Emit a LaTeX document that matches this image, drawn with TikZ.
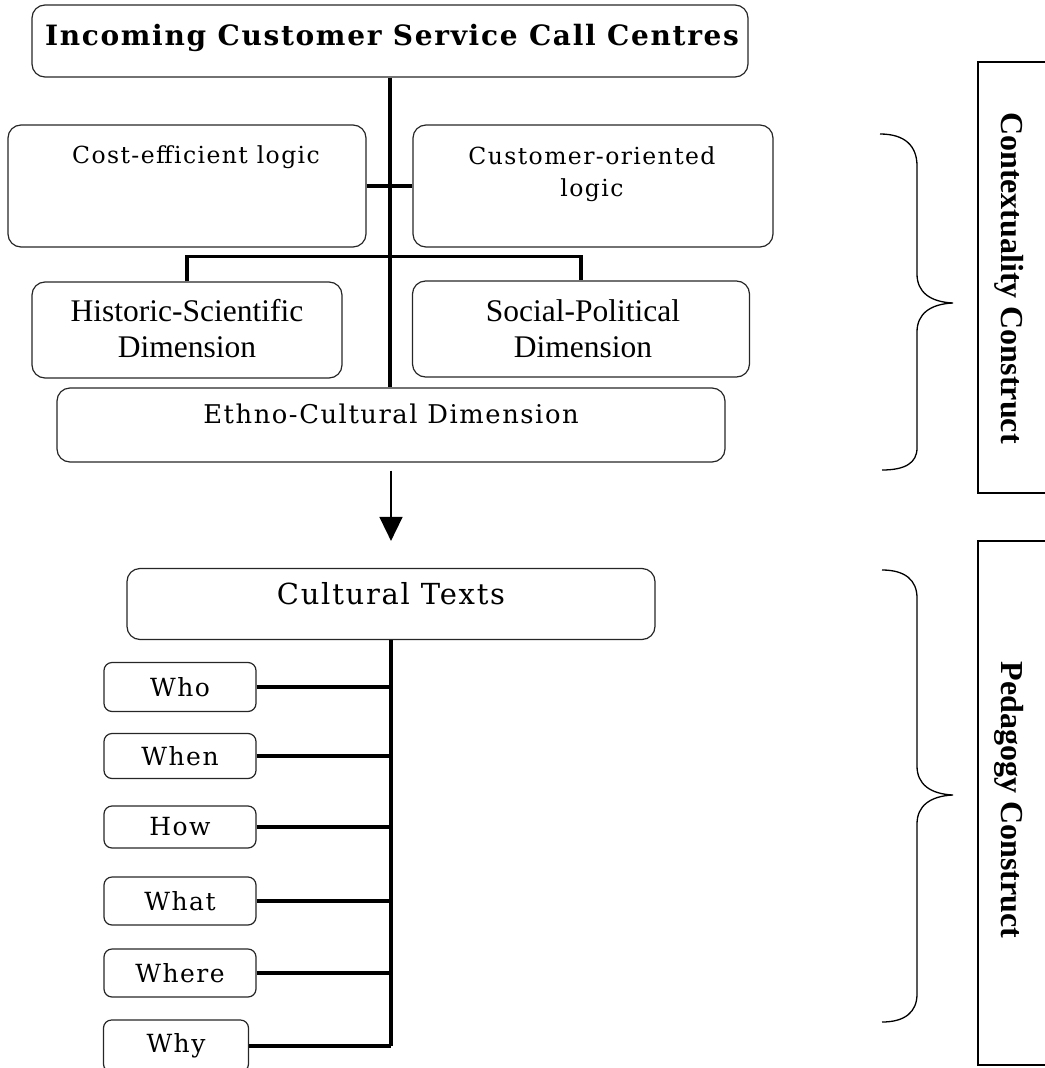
\documentclass[tikz,border=0pt]{standalone}
\usepackage{fontspec}
\setmainfont{DejaVu Serif}
\newfontfamily\bkfont[LetterSpace=6]{DejaVu Serif}
\newfontfamily\tmfont{Liberation Serif}
\usetikzlibrary{positioning,arrows.meta}

\tikzset{
  box/.style={draw=black!85, line width=1.2pt, rounded corners=13pt, inner sep=0pt},
  qbox/.style={box, rounded corners=8pt, minimum width=152pt, font=\bkfont\fontsize{25}{30}\selectfont},
  bk/.style={inner sep=0pt, align=center, font=\bkfont\fontsize{23.5}{32}\selectfont},
  tm/.style={inner sep=0pt, align=center, font=\tmfont\fontsize{31.5}{36}\selectfont},
  side/.style={inner sep=0pt, rotate=-90, font=\tmfont\bfseries\fontsize{32}{36}\selectfont},
  link/.style={line width=3.8pt},
  brace/.style={line width=1.3pt},
}

\begin{document}
\begin{tikzpicture}[x=1pt,y=-1pt]
	\useasboundingbox (0,0) rectangle (1044,1068);
	
	%%%%% CONTEXT %%%%%
	\node[box, minimum width=716pt, minimum height=72pt] (calls) at (390,41) {};
	\node[bk, font=\bkfont\bfseries\fontsize{28}{30}\selectfont] (calls-t) at (392,38) {Incoming Customer Service Call Centres};
	
	\node[box, minimum width=358pt, minimum height=122pt] (cost) at (187,186) {};
	\node[bk] (cost-t) at (196,157) {Cost-efficient logic};
	\node[box, minimum width=360pt, minimum height=122pt] (cust) at (593,186) {};
	\node[bk] (cust-t) at (592,174) {Customer-oriented\\logic};
	
	\node[box, minimum width=310pt, minimum height=96pt] (hist) at (187,330) {};
	\node[tm] (hist-t) at (187,329) {Historic-Scientific\\Dimension};
	\node[box, minimum width=337pt, minimum height=96pt] (soc) at (581,329) {};
	\node[tm] (soc-t) at (583,329) {Social-Political\\Dimension};
	
	\node[box, minimum width=668pt, minimum height=74pt] (ethno) at (391,425) {};
	\node[bk, font=\bkfont\fontsize{25.8}{30}\selectfont] (ethno-t) at (391,414) {Ethno-Cultural Dimension};
	
	\draw[link] (calls.south) -- (calls.south |- ethno.north);
	\draw[link] (cost.east) -- (cust.west);
	\draw[link] (hist.north) -- ++(0,-25) -| (soc.north);
	
	%%%%% PEDAGOGY %%%%%
	\node[box, minimum width=528pt, minimum height=71pt] (cult) at (391,604) {};
	\node[bk, font=\bkfont\fontsize{29}{32}\selectfont] (cult-t) at (391,594) {Cultural Texts};
	
	\draw[line width=1.6pt, -{Triangle[width=23pt,length=24pt]}, shorten <=8pt, shorten >=27pt] (ethno.south) -- (ethno.south |- cult.north);
	
	\node[qbox, minimum height=49pt] (who) at (180,687) {Who};
	\node[qbox, minimum height=45pt] (when) at (180,756) {When};
	\node[qbox, minimum height=42pt] (how) at (180,827) {How};
	\node[qbox, minimum height=48pt] (what) at (180,901) {What};
	\node[qbox, minimum height=48pt] (where) at (180,973) {Where};
	\node[qbox, minimum width=145pt, minimum height=52pt] (why) at (176,1046) {Why};
	
	\foreach \q in {who,when,how,what,where,why}
		\draw[link] (\q.east) -- (\q.east -| cult.south);
	\draw[link] (cult.south) -- (cult.south |- why.east);
	
	%%%%% CONSTRUCTS %%%%%
	\draw[brace] (880,134) .. controls (905,134) and (917,146) .. (917,166) -- (917,274)
		.. controls (917,292) and (930,302) .. (953,303) .. controls (930,304) and (917,314) .. (917,332)
		-- (917,448) .. controls (917,463) and (905,470) .. (882,470);
	\draw[brace] (882,570) .. controls (905,570) and (917,580) .. (917,598) -- (917,766)
		.. controls (917,784) and (930,794) .. (953,795) .. controls (930,796) and (917,806) .. (917,824)
		-- (917,994) .. controls (917,1012) and (905,1022) .. (882,1022);
	
	\draw[line width=1.3pt] (1060,62) -| (978,493) -- (1060,493);
	\node[side] (ctx) at (1009,278) {Contextuality Construct};
	\draw[line width=1.3pt] (1060,541) -| (978,1065) -- (1060,1065);
	\node[side] (ped) at (1009,800) {Pedagogy Construct};
\end{tikzpicture}
\end{document}
